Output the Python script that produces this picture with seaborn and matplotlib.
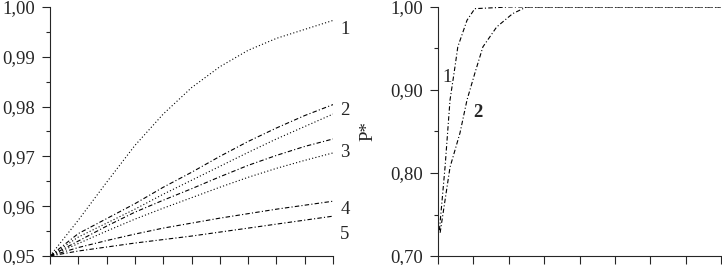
import numpy as np
import pandas as pd
import matplotlib
matplotlib.use("Agg")
import matplotlib.pyplot as plt
import seaborn as sns
from matplotlib.ticker import FuncFormatter, MultipleLocator

# --- data ---
x_left = [0, 1, 2, 3, 4, 5, 6, 7, 8, 9, 10]
curve1 = [0.950, 0.9572, 0.9648, 0.9722, 0.9785, 0.9838, 0.9880, 0.9913, 0.9937, 0.9955, 0.9973]
curve2 = [0.950, 0.9545, 0.9575, 0.9605, 0.9638, 0.9668, 0.9700, 0.9730, 0.9757, 0.9782, 0.9804]
curve2b = [0.950, 0.9538, 0.9566, 0.9594, 0.9624, 0.9652, 0.9680, 0.9708, 0.9735, 0.9760, 0.9785]
curve3 = [0.950, 0.9530, 0.9560, 0.9588, 0.9612, 0.9635, 0.9659, 0.9682, 0.9702, 0.9720, 0.9735]
curve3b = [0.950, 0.9525, 0.9550, 0.9574, 0.9596, 0.9617, 0.9638, 0.9658, 0.9676, 0.9692, 0.9707]
curve4 = [0.950, 0.9517, 0.9531, 0.9544, 0.9556, 0.9566, 0.9576, 0.9585, 0.9594, 0.9602, 0.9610]
curve5 = [0.950, 0.9510, 0.9518, 0.9526, 0.9533, 0.9540, 0.9548, 0.9556, 0.9564, 0.9572, 0.9580]

x_r1 = [0.04, 0.2, 0.34, 0.48, 0.56, 0.82, 1.04, 2.0, 4.0, 6.0, 8.0]
p_r1 = [0.731, 0.8075, 0.888, 0.928, 0.952, 0.984, 0.998, 1.0, 1.0, 1.0, 1.0]
x_r2 = [0.06, 0.34, 0.62, 0.82, 1.04, 1.27, 1.66, 2.11, 2.5, 4.0, 6.0, 8.0]
p_r2 = [0.728, 0.807, 0.848, 0.888, 0.92, 0.952, 0.976, 0.992, 1.0, 1.0, 1.0, 1.0]

left_labels = ["1", "2", "3", "4", "5"]
left_label_y = [0.9954, 0.9793, 0.9707, 0.9594, 0.9544]

sns.set_style("ticks")
plt.rcParams['font.family'] = ['Liberation Serif', 'DejaVu Serif']
plt.rcParams['font.size'] = 13.5

fig = plt.figure(figsize=(7.22, 2.65), dpi=100)
ax1 = fig.add_axes([50/722, 9/265, 283/722, 249/265])
ax2 = fig.add_axes([438/722, 9/265, 283/722, 249/265])

comma = FuncFormatter(lambda v, p: f"{v:.2f}".replace(".", ","))
dash = (0, (4, 2, 1, 2))
dot = (0, (1, 2))

# left panel
df_left = pd.DataFrame({"x": x_left, "c1": curve1, "c2": curve2, "c2b": curve2b,
                        "c3": curve3, "c3b": curve3b, "c4": curve4, "c5": curve5})
styles = {"c1": dot, "c2": dash, "c2b": dot, "c3": dash, "c3b": dot, "c4": dash, "c5": dash}
for col, ls in styles.items():
    sns.lineplot(data=df_left, x="x", y=col, ax=ax1, color="black", lw=0.8, linestyle=ls)

ax1.set_xlim(0, 10)
ax1.set_ylim(0.95, 1.0)
ax1.yaxis.set_major_locator(MultipleLocator(0.01))
ax1.yaxis.set_minor_locator(MultipleLocator(0.005))
ax1.xaxis.set_major_locator(MultipleLocator(1))
ax1.yaxis.set_major_formatter(comma)
ax1.set_xticklabels([])
for lab, yv in zip(left_labels, left_label_y):
    ax1.text(10.42, yv, lab, ha="center", va="center", fontsize=13.5, clip_on=False)

# right panel
sns.lineplot(x=x_r1, y=p_r1, ax=ax2, color="black", lw=0.8, linestyle=dash)
sns.lineplot(x=x_r2, y=p_r2, ax=ax2, color="black", lw=0.8, linestyle=dash)
ax2.set_xlim(0, 8)
ax2.set_ylim(0.70, 1.0)
ax2.yaxis.set_major_locator(MultipleLocator(0.1))
ax2.yaxis.set_minor_locator(MultipleLocator(0.05))
ax2.xaxis.set_major_locator(MultipleLocator(1))
ax2.yaxis.set_major_formatter(comma)
ax2.set_xticklabels([])
ax2.text(0.25, 0.915, "1", ha="center", va="center", fontsize=13.5)
ax2.text(1.13, 0.873, "2", ha="center", va="center", fontsize=13.5, fontweight="bold")
ax2.set_ylabel("P*", labelpad=10)

for ax in (ax1, ax2):
    ax.set_xlabel("")
    if ax is ax1:
        ax.set_ylabel("")
    sns.despine(ax=ax)
    for s in ("left", "bottom"):
        ax.spines[s].set_linewidth(0.8)
    ax.tick_params(axis="both", which="major", length=6, width=0.8, direction="out", pad=5)
    ax.tick_params(axis="both", which="minor", length=3, width=0.8, direction="out")

fig.savefig("out.png", dpi=100)
